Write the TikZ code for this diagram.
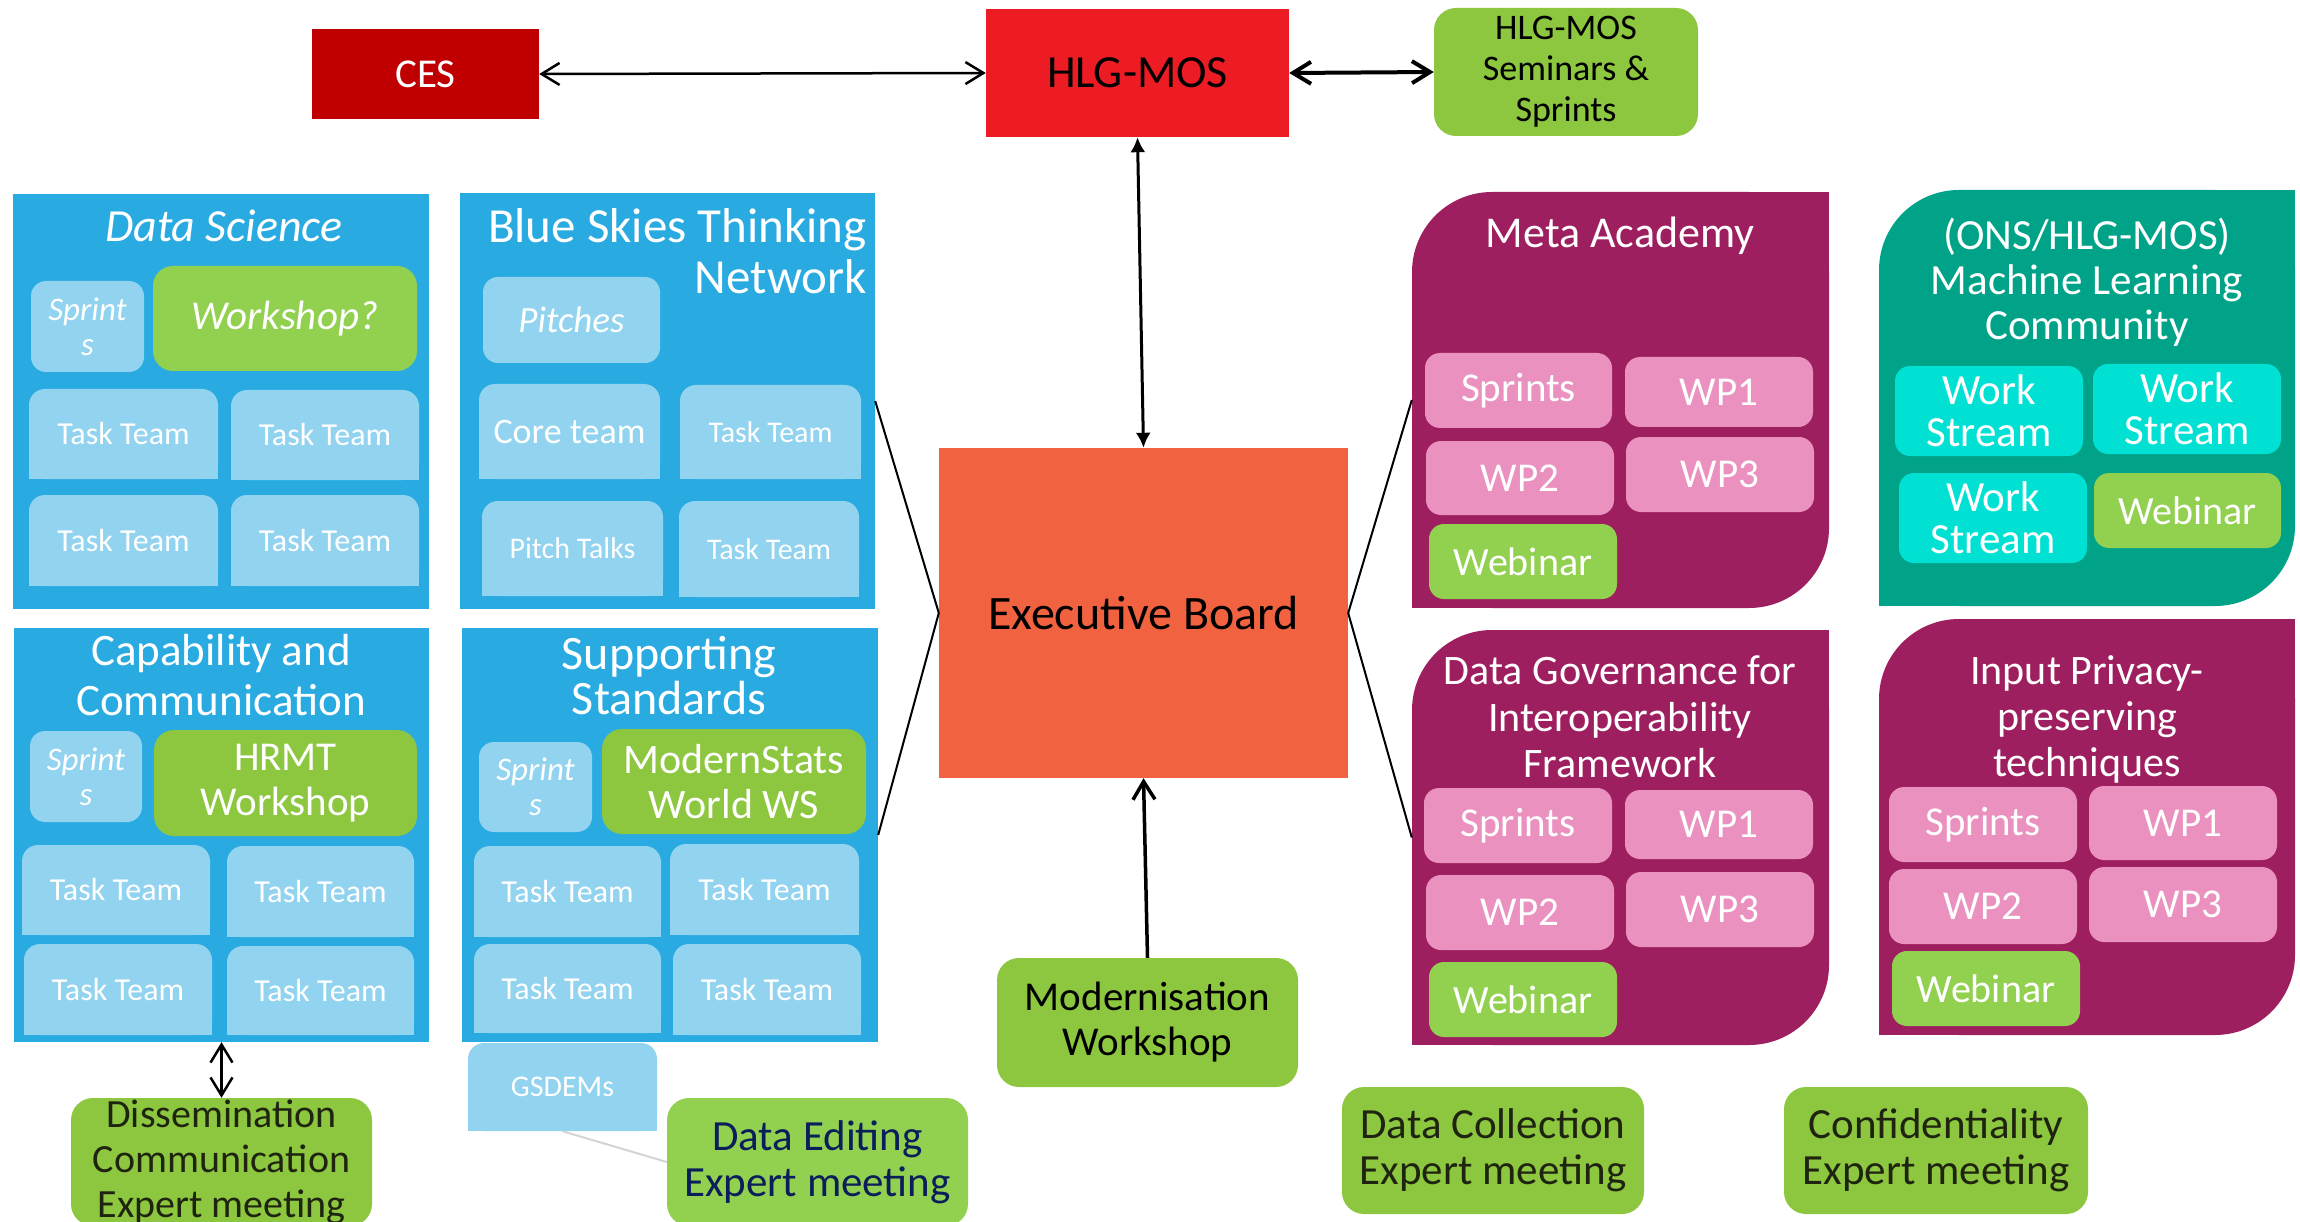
\documentclass[tikz,border=0pt]{standalone}
\usepackage{fontspec}
\setmainfont{Carlito}
\usetikzlibrary{arrows.meta}
\definecolor{cesred}{HTML}{C00000}
\definecolor{hlgred}{HTML}{ED1C24}
\definecolor{execor}{HTML}{F06240}
\definecolor{blueG}{HTML}{29ABE2}
\definecolor{lblue}{HTML}{92D3F0}
\definecolor{greenA}{HTML}{92D050}
\definecolor{greenB}{HTML}{8DC63F}
\definecolor{mpurple}{HTML}{9E1F5F}
\definecolor{mpink}{HTML}{EA91BF}
\definecolor{mteal}{HTML}{00A388}
\definecolor{mcyan}{HTML}{00E0D3}
\definecolor{navyt}{HTML}{0A1E5A}
\definecolor{darkt}{HTML}{1E2410}
\definecolor{glink}{HTML}{D4D4D4}
\newcommand\fs[2]{\fontsize{#1}{#2}\selectfont}
% name, x1, y1, x2, y2, style, text
\newcommand\rbox[7]{\node[#6, minimum width={(#4-#2)*1pt}, minimum height={(#5-#3)*1pt}] (#1) at ({(#2+#4)/2},{(#3+#5)/2}) {#7};}
% light blue box, top corners rounded
\newcommand\tbox[7]{%
  \fill[lblue, rounded corners=16pt] (#2,#3) rectangle (#4,#5);
  \fill[lblue] (#2,{(#3+#5)/2}) rectangle (#4,#5);
  \rbox{#1}{#2}{#3}{#4}{#5}{#6}{#7}}
% group box, top-left and bottom-right rounded
\newcommand\gbox[6]{%
  \fill[#6, rounded corners=80pt] (#2,#3) rectangle (#4,#5);
  \fill[#6] ({(#2+#4)/2},#3) rectangle (#4,{(#3+#5)/2});
  \fill[#6] (#2,{(#3+#5)/2}) rectangle ({(#2+#4)/2},#5);
  \rbox{#1}{#2}{#3}{#4}{#5}{base}{}}
\tikzset{
  base/.style={inner sep=0pt, align=center},
  wt/.style={base, text=white},
  tt32/.style={wt, font=\fs{32}{36}},
  tt30/.style={wt, font=\fs{30}{34}},
  sprintb/.style={wt, fill=lblue, rounded corners=15pt, font=\fs{33}{35}\itshape},
  pinkb/.style={wt, fill=mpink, rounded corners=15pt, font=\fs{41}{45}},
  webb/.style={wt, fill=greenA, rounded corners=15pt, font=\fs{40}{44}},
  wsb/.style={wt, fill=mcyan, rounded corners=15pt, font=\fs{43}{42}},
  meetb/.style={base, fill=greenB, rounded corners=22pt, text=darkt, font=\fs{43}{46}},
  conn/.style={line width=2pt, black},
  barbs/.style={{Straight Barb[length=18pt,width=22pt]}-{Straight Barb[length=18pt,width=22pt]}},
}
\begin{document}
\begin{tikzpicture}[x=1pt, y=-1pt]
\useasboundingbox (0,0) rectangle (2300,1222);

% ---------- top row ----------
\rbox{ces}{312}{29}{539}{119}{base, fill=cesred, text=white, font=\fs{41}{45}}{CES}
\rbox{hlg}{986}{9}{1289}{137}{base, fill=hlgred, font=\fs{46}{50}}{HLG-MOS}
\rbox{sem}{1434}{8}{1698}{136}{base, fill=greenB, rounded corners=22pt, font=\fs{36}{41}}{HLG-MOS\\Seminars \&\\Sprints}
\rbox{exec}{939}{448}{1348}{778}{base, fill=execor, font=\fs{48}{52}}{Executive Board}
\rbox{modern}{997}{958}{1298}{1087}{base, fill=greenB, rounded corners=22pt, font=\fs{41}{45}}{Modernisation\\Workshop}

% ---------- Data Science ----------
\rbox{ds}{13}{194}{429}{609}{base, fill=blueG}{}
\node[wt, font=\fs{46}{50}\itshape, anchor=base] (dstitle) at (224,242) {Data Science};
\rbox{dssp}{31}{281}{144}{372}{sprintb}{Sprint\\s}
\rbox{dsws}{153}{266}{417}{371}{wt, fill=greenA, rounded corners=20pt, font=\fs{41}{45}\itshape}{Workshop?}
\tbox{dstt1}{29}{389}{218}{479}{tt32}{Task Team}
\tbox{dstt2}{231}{390}{419}{480}{tt32}{Task Team}
\tbox{dstt3}{29}{495}{218}{586}{tt32}{Task Team}
\tbox{dstt4}{231}{495}{419}{586}{tt32}{Task Team}

% ---------- Blue Skies ----------
\rbox{bs}{460}{193}{875}{609}{base, fill=blueG}{}
\node[wt, align=right, font=\fs{49}{51}, anchor=east] (bstitle) at (867,251) {Blue Skies Thinking\\Network};
\rbox{pitch}{483}{277}{660}{363}{wt, fill=lblue, rounded corners=15pt, font=\fs{37}{40}\itshape}{Pitches}
\tbox{core}{479}{384}{660}{479}{wt, font=\fs{36}{40}}{Core team}
\tbox{bstt1}{680}{385}{861}{479}{tt30}{Task Team}
\tbox{ptalk}{482}{501}{663}{596}{tt30}{Pitch Talks}
\tbox{bstt2}{679}{501}{859}{597}{tt30}{Task Team}

% ---------- Capability ----------
\rbox{cap}{14}{628}{429}{1042}{base, fill=blueG}{}
\node[wt, font=\fs{45}{50}] (captitle) at (221,675) {Capability and\\Communication};
\rbox{capsp}{30}{731}{142}{822}{sprintb}{Sprint\\s}
\rbox{hrmt}{154}{730}{417}{836}{wt, fill=greenB, rounded corners=20pt, font=\fs{41}{45}}{HRMT\\Workshop}
\tbox{captt1}{22}{845}{210}{935}{tt32}{Task Team}
\tbox{captt2}{227}{846}{414}{937}{tt32}{Task Team}
\tbox{captt3}{24}{944}{212}{1035}{tt32}{Task Team}
\tbox{captt4}{227}{946}{414}{1035}{tt32}{Task Team}

% ---------- Supporting Standards ----------
\rbox{ss}{462}{628}{878}{1042}{base, fill=blueG}{}
\node[wt, font=\fs{48}{45}] (sstitle) at (669,676) {Supporting\\Standards};
\rbox{sssp}{479}{742}{592}{832}{sprintb}{Sprint\\s}
\rbox{msw}{602}{729}{866}{834}{wt, fill=greenB, rounded corners=20pt, font=\fs{42}{45}}{ModernStats\\World WS}
\tbox{sstt1}{474}{846}{661}{937}{tt32}{Task Team}
\tbox{sstt2}{670}{844}{859}{935}{tt32}{Task Team}
\tbox{sstt3}{474}{944}{661}{1033}{tt32}{Task Team}
\tbox{sstt4}{673}{944}{861}{1035}{tt32}{Task Team}
\tbox{gsdem}{468}{1043}{657}{1131}{tt30}{GSDEMs}

% ---------- meetings ----------
\rbox{dedit}{667}{1098}{968}{1226}{meetb, fill=greenA, text=navyt}{Data Editing\\Expert meeting}
\draw[glink, line width=2pt] (gsdem.south) -- (dedit.west);
\rbox{diss}{71}{1098}{372}{1226}{meetb, font=\fs{40}{45}}{Dissemination\\Communication\\Expert meeting}
\rbox{dcoll}{1342}{1087}{1644}{1214}{meetb}{Data Collection\\Expert meeting}
\rbox{conf}{1784}{1087}{2088}{1214}{meetb}{Confidentiality\\Expert meeting}

% ---------- Meta Academy ----------
\gbox{meta}{1412}{192}{1829}{608}{mpurple}
\node[wt, font=\fs{44}{48}, anchor=base] (metatitle) at (1620,248) {Meta Academy};
\rbox{metasp}{1425}{353}{1612}{428}{pinkb}{Sprints}
\rbox{metawp1}{1625}{357}{1813}{427}{pinkb}{WP1}
\rbox{metawp2}{1426}{441}{1614}{515}{pinkb}{WP2}
\rbox{metawp3}{1626}{437}{1814}{512}{pinkb}{WP3}
\rbox{metaweb}{1429}{524}{1617}{599}{webb}{Webinar}

% ---------- ML Community ----------
\gbox{mlc}{1879}{190}{2295}{606}{mteal}
\node[wt, font=\fs{43}{45}] (mlctitle) at (2087,282) {(ONS/HLG-MOS)\\Machine Learning\\Community};
\rbox{ws1}{1895}{366}{2083}{456}{wsb}{Work\\Stream}
\rbox{ws2}{2093}{364}{2281}{454}{wsb}{Work\\Stream}
\rbox{ws3}{1899}{473}{2087}{563}{wsb}{Work\\Stream}
\rbox{mlcweb}{2094}{473}{2281}{548}{webb}{Webinar}

% ---------- Data Governance ----------
\gbox{dg}{1412}{630}{1829}{1045}{mpurple}
\node[wt, font=\fs{42}{46.5}] (dgtitle) at (1620,717) {Data Governance for\\Interoperability\\Framework};
\rbox{dgsp}{1424}{788}{1612}{863}{pinkb}{Sprints}
\rbox{dgwp1}{1625}{790}{1813}{859}{pinkb}{WP1}
\rbox{dgwp2}{1426}{875}{1614}{950}{pinkb}{WP2}
\rbox{dgwp3}{1626}{872}{1814}{947}{pinkb}{WP3}
\rbox{dgweb}{1429}{962}{1617}{1037}{webb}{Webinar}

% ---------- Input Privacy ----------
\gbox{ip}{1879}{619}{2295}{1035}{mpurple}
\node[wt, font=\fs{42}{46}] (iptitle) at (2087,719) {Input Privacy-\\preserving\\techniques};
\rbox{ipsp}{1889}{787}{2077}{862}{pinkb}{Sprints}
\rbox{ipwp1}{2089}{786}{2277}{860}{pinkb}{WP1}
\rbox{ipwp2}{1889}{869}{2077}{944}{pinkb}{WP2}
\rbox{ipwp3}{2089}{867}{2277}{942}{pinkb}{WP3}
\rbox{ipweb}{1892}{951}{2080}{1026}{webb}{Webinar}

% ---------- connectors ----------
\draw[barbs, line width=2.5pt] (ces.east) -- (hlg.west);
\draw[barbs, line width=4pt] (hlg.east) -- (sem.west);
\draw[{Latex[length=15pt,width=15pt]}-{Latex[length=15pt,width=15pt]}, line width=3pt] (hlg.south) -- (exec.north);
\draw[-{Straight Barb[length=18pt,width=22pt]}, line width=3.5pt] (modern.north) -- (exec.south);
\draw[barbs, line width=2.5pt] (cap.south) -- (diss.north);
\draw[conn] (bs.east) -- (exec.west);
\draw[conn] (ss.east) -- (exec.west);
\draw[conn] (exec.east) -- (meta.west);
\draw[conn] (exec.east) -- (dg.west);
\end{tikzpicture}
\end{document}
